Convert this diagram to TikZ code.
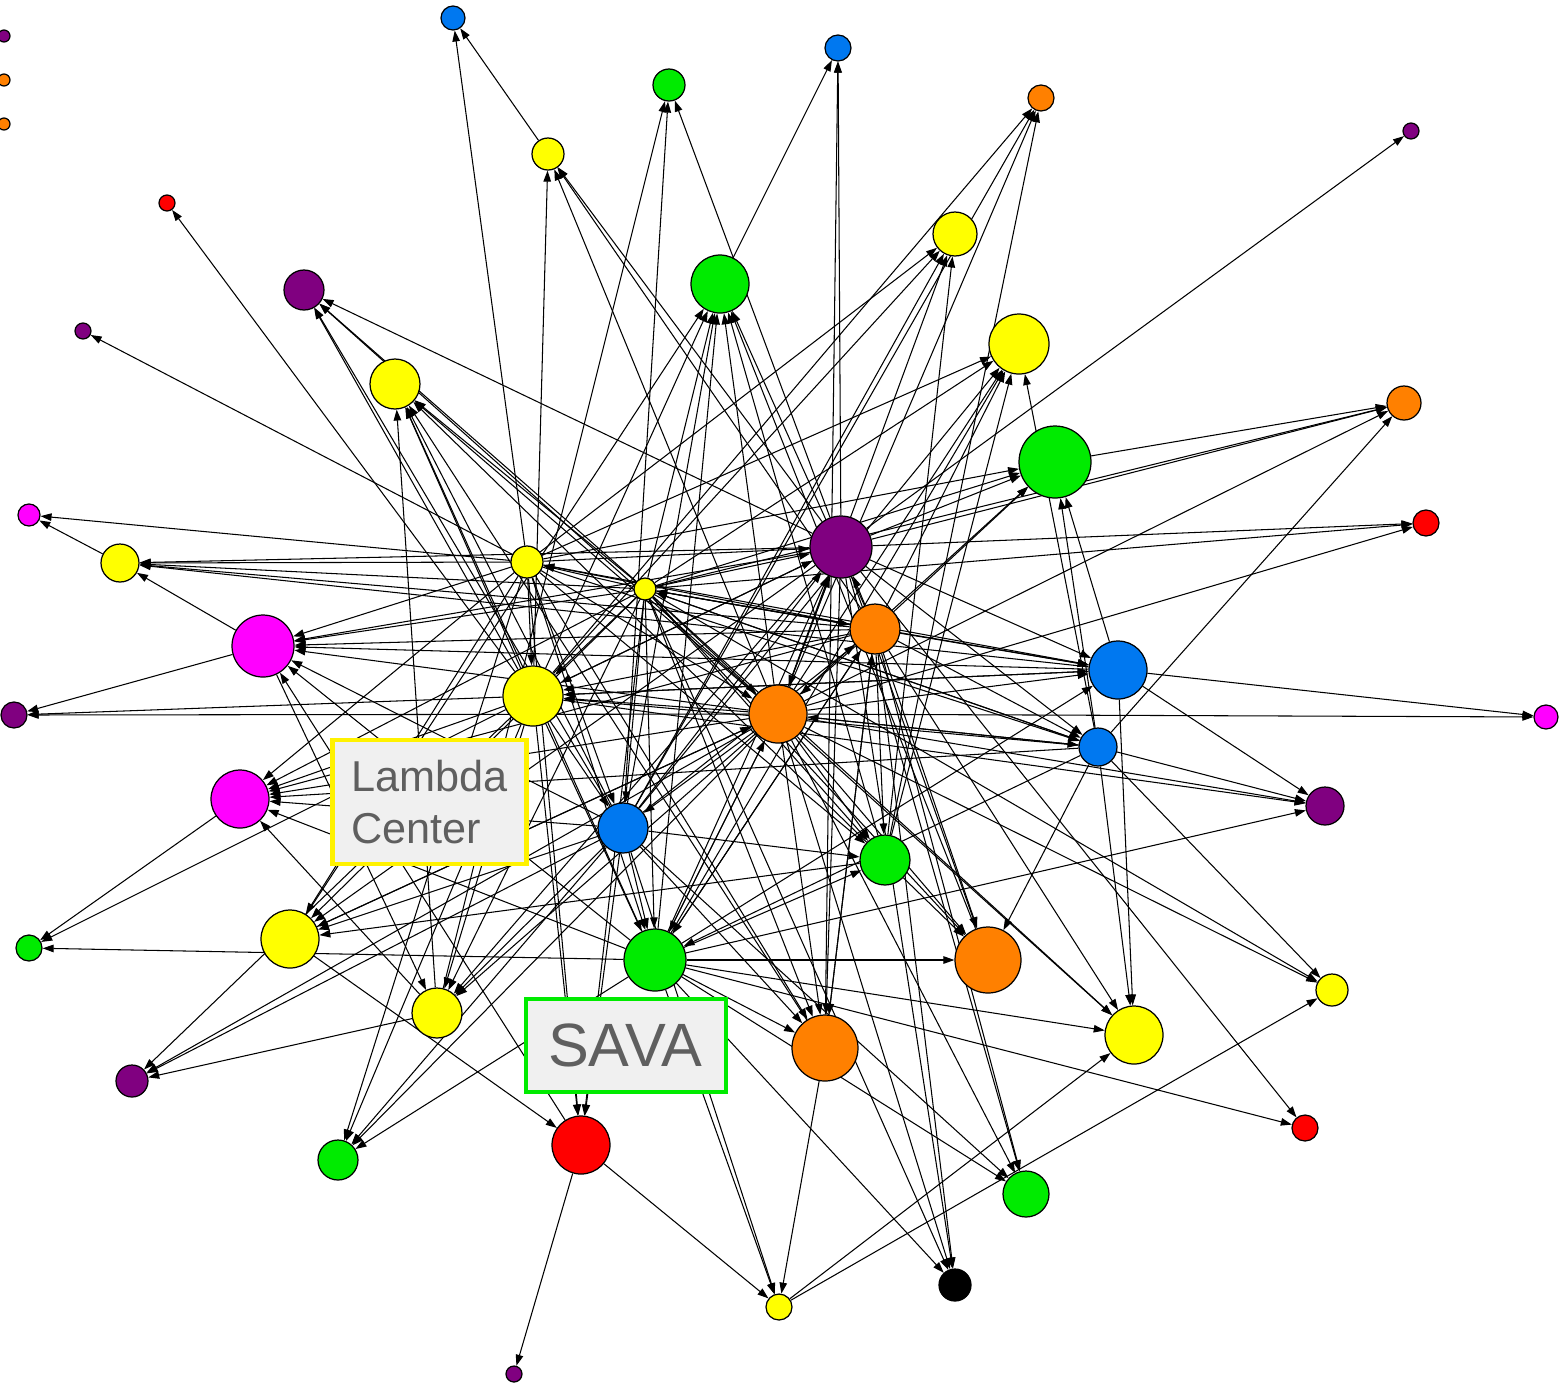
\documentclass[tikz,border=0pt]{standalone}
\usepackage{fontspec}
\newfontfamily\lblfont{Liberation Sans}
\usetikzlibrary{arrows.meta,backgrounds}

\definecolor{cyel}{RGB}{255,255,0}
\definecolor{cgrn}{RGB}{0,235,0}
\definecolor{cblu}{RGB}{0,120,240}
\definecolor{corg}{RGB}{255,128,0}
\definecolor{cpur}{RGB}{128,0,128}
\definecolor{cmag}{RGB}{255,0,255}
\definecolor{cred}{RGB}{255,0,0}
\definecolor{cbox}{RGB}{240,240,240}
\definecolor{ctxt}{RGB}{95,95,95}

\begin{document}
\begin{tikzpicture}[x=0.1mm,y=-0.1mm,
    nd/.style={circle,draw,line width=0.35pt,inner sep=0pt,fill=#1},
    edge/.style={-{Triangle[length=1.1mm,width=0.75mm]},line width=0.3pt},
    lbl/.style={draw=#1,line width=1.2pt,fill=cbox,text=ctxt,align=left,inner ysep=0pt}]
    \useasboundingbox (0,0) rectangle (1560,1389);
    % nodes: name/colour/x/y/radius
    \foreach \n/\c/\x/\y/\r in {
        t1/cpur/4/36/6, t2/corg/4/80/6, t3/corg/4/124/6,
        b1/cblu/453/18/12, b2/cblu/838/48/13, g1/cgrn/669/85/16, y1/cyel/548/154/16,
        o1/corg/1041/98/13, p1/cpur/1411/131/8, r1/cred/167/203/8, y2/cyel/955/234/22,
        g2/cgrn/720/284/29, p2/cpur/304/290/20, p3/cpur/83/331/8, y3/cyel/1019/344/30,
        y4/cyel/395/384/25, o2/corg/1404/403/17, g3/cgrn/1055/462/36, m1/cmag/29/515/11,
        r2/cred/1426/523/13, p4/cpur/841/547/31, y5/cyel/527/562/16, y6/cyel/120/563/19,
        y7/cyel/645/589/11, o3/corg/875/629/25, m2/cmag/263/646/31, b3/cblu/1118/670/29,
        y8/cyel/533/696/30, p5/cpur/14/715/13, o4/corg/778/714/29, m3/cmag/1546/717/12,
        b4/cblu/1098/747/19, m4/cmag/240/799/29, p6/cpur/1325/806/19, b5/cblu/623/828/25,
        g4/cgrn/885/860/25, g5/cgrn/29/948/13, y9/cyel/290/939/29, g6/cgrn/655/960/31,
        o5/corg/988/960/33, y10/cyel/1332/990/16, y11/cyel/437/1013/25, y12/cyel/1134/1035/29,
        o6/corg/825/1048/33, p7/cpur/132/1081/16, r3/cred/1305/1128/13, r4/cred/581/1145/29,
        g7/cgrn/338/1160/20, g8/cgrn/1026/1194/23, k1/black/955/1285/16, y13/cyel/779/1307/13,
        p8/cpur/514/1374/8}
        \node[nd=\c,minimum size=\r*0.2mm] (\n) at (\x,\y) {};
    % links: target/{sources}
    \begin{scope}[on background layer]
        \foreach \t/\srcs in {
            b1/{y1,y5}, b2/{p4,o6,g2}, g1/{y11,b5,p4}, y1/{y8,p4,o3,o4},
            o1/{y8,b5,g4,o4}, p1/{p4}, r1/{y8}, y2/{y5,y8,o4,g4,b5},
            g2/{y8,b5,y9,g6,o4,o3,g4,o5,y7}, p2/{y8,y7,b5,o4,p4}, p3/{y5},
            y3/{y5,y7,o4,g6,b5,g4,b4,o3}, y4/{y8,b5,g6,y11,o4,y7,o6,g4},
            o2/{g3,b4,o4,p4,y7}, g3/{p4,y7,o3,o4,y5,b4,b3}, m1/{y5,y6},
            r2/{p4,y7,o4}, p4/{y5,y7,o4,g6,b5,o3,y8}, y5/{y7,o3},
            y6/{y5,p4,o3,y7,b3,m2}, y7/{o3,b4}, o3/{y7,g6,b5,o6},
            m2/{y5,y7,p4,o3,o4,b3,g6,b5,r4}, b3/{y5,y7,o4,o3,g6,p4,y8},
            y8/{y5,y7,b3,o3,p4,o4,b4}, p5/{y8,o4,m2}, o4/{y7,y5,p4,o3,b4,g6,y9},
            m3/{b3,o4}, b4/{y5,y7,o4,o3,p4}, m4/{y8,y5,y7,o4,o3,b5,g6,b4,y11},
            p6/{b4,b3,o4,g6,y8}, b5/{y5,y7,y8,o4}, g4/{y7,o4,o3,b5,g6,y5},
            g5/{g6,m4,y8}, y9/{y5,y7,p4,o4,b5,g4}, g6/{y5,y7,y8,o3,b5,o4,b4},
            o5/{y7,p4,o3,o4,b4,g4,g6}, y10/{b4,o4,y7,y13},
            y11/{y8,y7,p4,o4,b5,m2}, y12/{b3,b4,o3,o4,y7,g6,y13},
            o6/{y5,y7,p4,o3,o4,b5,g6}, p7/{y8,b5,o4,y11}, r3/{p4,g6},
            r4/{y5,y8,b5,y7,y9}, g7/{y8,y5,b5,o4,g6}, g8/{p4,o3,o4,b5,g6},
            k1/{p4,o3,o4,y7,g6}, y13/{r4,g6,b5,o6}, p8/{r4}}{
            \foreach \s in \srcs {
                \draw[edge] (\s) -- (\t);
            }
        }
    \end{scope}
    % labels
    \node[lbl=yellow,text width=15.6mm,minimum height=12.4mm,inner xsep=1.9mm,
        font=\lblfont\fontsize{12.3}{14.7}\selectfont] (lambda) at (429.5,802) {Lambda\\Center};
    \node[lbl=cgrn,text width=15.6mm,minimum height=9.3mm,inner xsep=2.2mm,
        font=\lblfont\fontsize{17.4}{20}\selectfont] (sava) at (626,1045.5) {SAVA};
\end{tikzpicture}
\end{document}
